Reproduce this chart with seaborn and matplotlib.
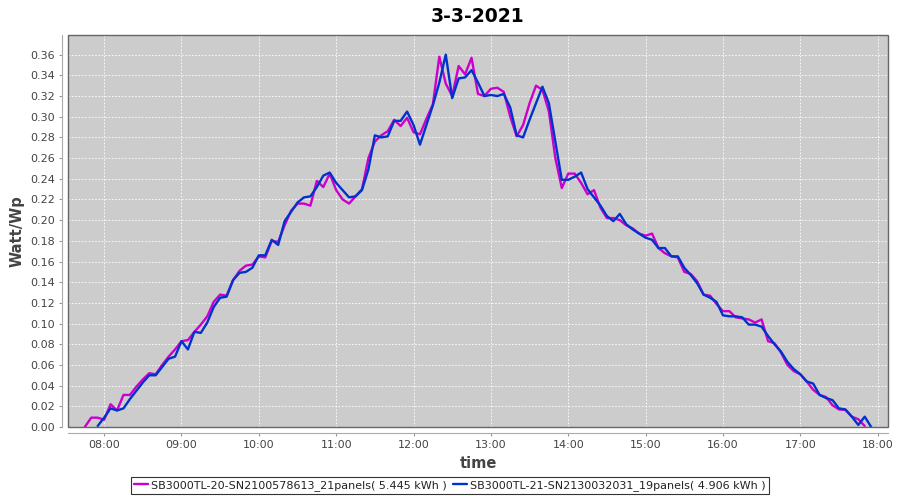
import pandas as pd
import numpy as np
import matplotlib
matplotlib.use("Agg")
import matplotlib.pyplot as plt
import matplotlib.dates as mdates
from matplotlib.patches import Rectangle
import seaborn as sns

# ----------------------------
# Data (5-minute samples)
# ----------------------------
title = "3-3-2021"
series_names = [
    "SB3000TL-20-SN2100578613_21panels( 5.445 kWh )",
    "SB3000TL-21-SN2130032031_19panels( 4.906 kWh )",
]
series_colors = ["#CC00CC", "#0033CC"]

times = pd.date_range("2021-03-03 07:45", "2021-03-03 17:55", freq="5min")

sb20 = [
    0.000, 0.009, 0.009, 0.007, 0.022, 0.016, 0.031, 0.031, 0.039, 0.046,  # 07:45-08:30
    0.052, 0.051, 0.060, 0.068, 0.075, 0.083, 0.084, 0.092, 0.099, 0.107,  # 08:35-09:20
    0.121, 0.128, 0.127, 0.142, 0.151, 0.156, 0.157, 0.165, 0.164, 0.180,  # 09:25-10:10
    0.179, 0.195, 0.209, 0.216, 0.216, 0.214, 0.238, 0.232, 0.245, 0.229,  # 10:15-11:00
    0.220, 0.216, 0.223, 0.230, 0.260, 0.276, 0.282, 0.286, 0.297, 0.291,  # 11:05-11:50
    0.299, 0.285, 0.283, 0.298, 0.312, 0.358, 0.332, 0.320, 0.349, 0.341,  # 11:55-12:40
    0.357, 0.322, 0.320, 0.327, 0.328, 0.324, 0.300, 0.281, 0.292, 0.313,  # 12:45-13:30
    0.330, 0.326, 0.305, 0.260, 0.231, 0.245, 0.245, 0.236, 0.225, 0.229,  # 13:35-14:20
    0.212, 0.202, 0.202, 0.200, 0.195, 0.192, 0.187, 0.185, 0.187, 0.173,  # 14:25-15:10
    0.168, 0.165, 0.164, 0.150, 0.148, 0.141, 0.128, 0.127, 0.119, 0.112,  # 15:15-16:00
    0.112, 0.106, 0.105, 0.104, 0.101, 0.104, 0.083, 0.081, 0.072, 0.060,  # 16:05-16:50
    0.054, 0.051, 0.044, 0.036, 0.031, 0.029, 0.021, 0.017, 0.0165, 0.010,  # 16:55-17:40
    0.0075, 0.001, np.nan,                                                  # 17:45-17:55
]

sb21 = [
    np.nan, np.nan, 0.001, 0.009, 0.018, 0.016, 0.018, 0.027, 0.035, 0.043,  # 07:45-08:30
    0.050, 0.050, 0.058, 0.066, 0.068, 0.083, 0.075, 0.092, 0.091, 0.101,  # 08:35-09:20
    0.116, 0.125, 0.126, 0.142, 0.149, 0.150, 0.154, 0.166, 0.166, 0.181,  # 09:25-10:10
    0.176, 0.199, 0.208, 0.217, 0.222, 0.223, 0.232, 0.243, 0.246, 0.236,  # 10:15-11:00
    0.229, 0.222, 0.223, 0.229, 0.249, 0.282, 0.280, 0.281, 0.296, 0.296,  # 11:05-11:50
    0.305, 0.292, 0.273, 0.292, 0.311, 0.333, 0.360, 0.318, 0.337, 0.338,  # 11:55-12:40
    0.345, 0.333, 0.320, 0.321, 0.320, 0.322, 0.309, 0.282, 0.280, 0.297,  # 12:45-13:30
    0.313, 0.329, 0.313, 0.276, 0.239, 0.239, 0.242, 0.246, 0.230, 0.222,  # 13:35-14:20
    0.214, 0.204, 0.199, 0.206, 0.196, 0.191, 0.187, 0.183, 0.181, 0.173,  # 14:25-15:10
    0.173, 0.165, 0.165, 0.154, 0.147, 0.139, 0.128, 0.125, 0.121, 0.108,  # 15:15-16:00
    0.107, 0.107, 0.106, 0.099, 0.099, 0.097, 0.088, 0.080, 0.073, 0.063,  # 16:05-16:50
    0.056, 0.051, 0.044, 0.042, 0.031, 0.028, 0.026, 0.018, 0.017, 0.010,  # 16:55-17:40
    0.002, 0.010, 0.000,                                                    # 17:45-17:55
]

df = pd.concat([
    pd.DataFrame({"time": times, "value": sb20, "series": series_names[0]}),
    pd.DataFrame({"time": times, "value": sb21, "series": series_names[1]}),
]).dropna()

# ----------------------------
# Plot
# ----------------------------
sns.set_style("white")
plt.rcParams["font.family"] = ["DejaVu Sans"]

fig = plt.figure(figsize=(9, 5), dpi=100)
ax = fig.add_axes([0.0756, 0.146, 0.911, 0.784])
ax.set_facecolor("#CCCCCC")

sns.lineplot(
    data=df, x="time", y="value", hue="series",
    palette=dict(zip(series_names, series_colors)),
    estimator=None, linewidth=1.7, ax=ax, legend=True,
    solid_joinstyle="round", solid_capstyle="round",
)

ax.set_xlim(pd.Timestamp("2021-03-03 07:32"), pd.Timestamp("2021-03-03 18:08"))
ax.set_ylim(0, 0.379)
ax.set_yticks(np.arange(0, 0.361, 0.02))
ax.yaxis.set_major_formatter(plt.FormatStrFormatter("%.2f"))
ax.xaxis.set_major_locator(mdates.HourLocator())
ax.xaxis.set_major_formatter(mdates.DateFormatter("%H:%M"))

ax.grid(True, color="white", linestyle=(0, (2, 2)), linewidth=0.6)
ax.tick_params(axis="both", labelsize=8, labelcolor="#444444", color="#999999",
               length=2, width=0.8, direction="out", left=True, bottom=True)

for side in ["top", "right"]:
    ax.spines[side].set_visible(False)
for side in ["left", "bottom"]:
    ax.spines[side].set_position(("outward", 4))
    ax.spines[side].set_color("#AAAAAA")
    ax.spines[side].set_linewidth(0.8)

# plot-area outline
ax.add_patch(Rectangle((0, 0), 1, 1, transform=ax.transAxes, fill=False,
                       edgecolor="#666666", linewidth=1.0, clip_on=False, zorder=5))

ax.set_xlabel("time", fontsize=10.5, color="#444444", fontweight="bold", labelpad=4)
ax.set_ylabel("Watt/Wp", fontsize=10.5, color="#444444", fontweight="bold", labelpad=4)
ax.set_title(title, fontsize=13.5, fontweight="bold", color="black", pad=9)

handles, labels = ax.get_legend_handles_labels()
ax.get_legend().remove()
leg = fig.legend(handles, labels, loc="lower center", bbox_to_anchor=(0.5, 0.0),
                 ncol=2, fontsize=8, frameon=True, fancybox=False,
                 edgecolor="black", handlelength=1.2, handletextpad=0.3,
                 columnspacing=0.6, borderpad=0.3)
leg.get_frame().set_linewidth(0.8)
for text in leg.get_texts():
    text.set_color("#222222")

plt.savefig("out.png", dpi=100)
plt.close()
